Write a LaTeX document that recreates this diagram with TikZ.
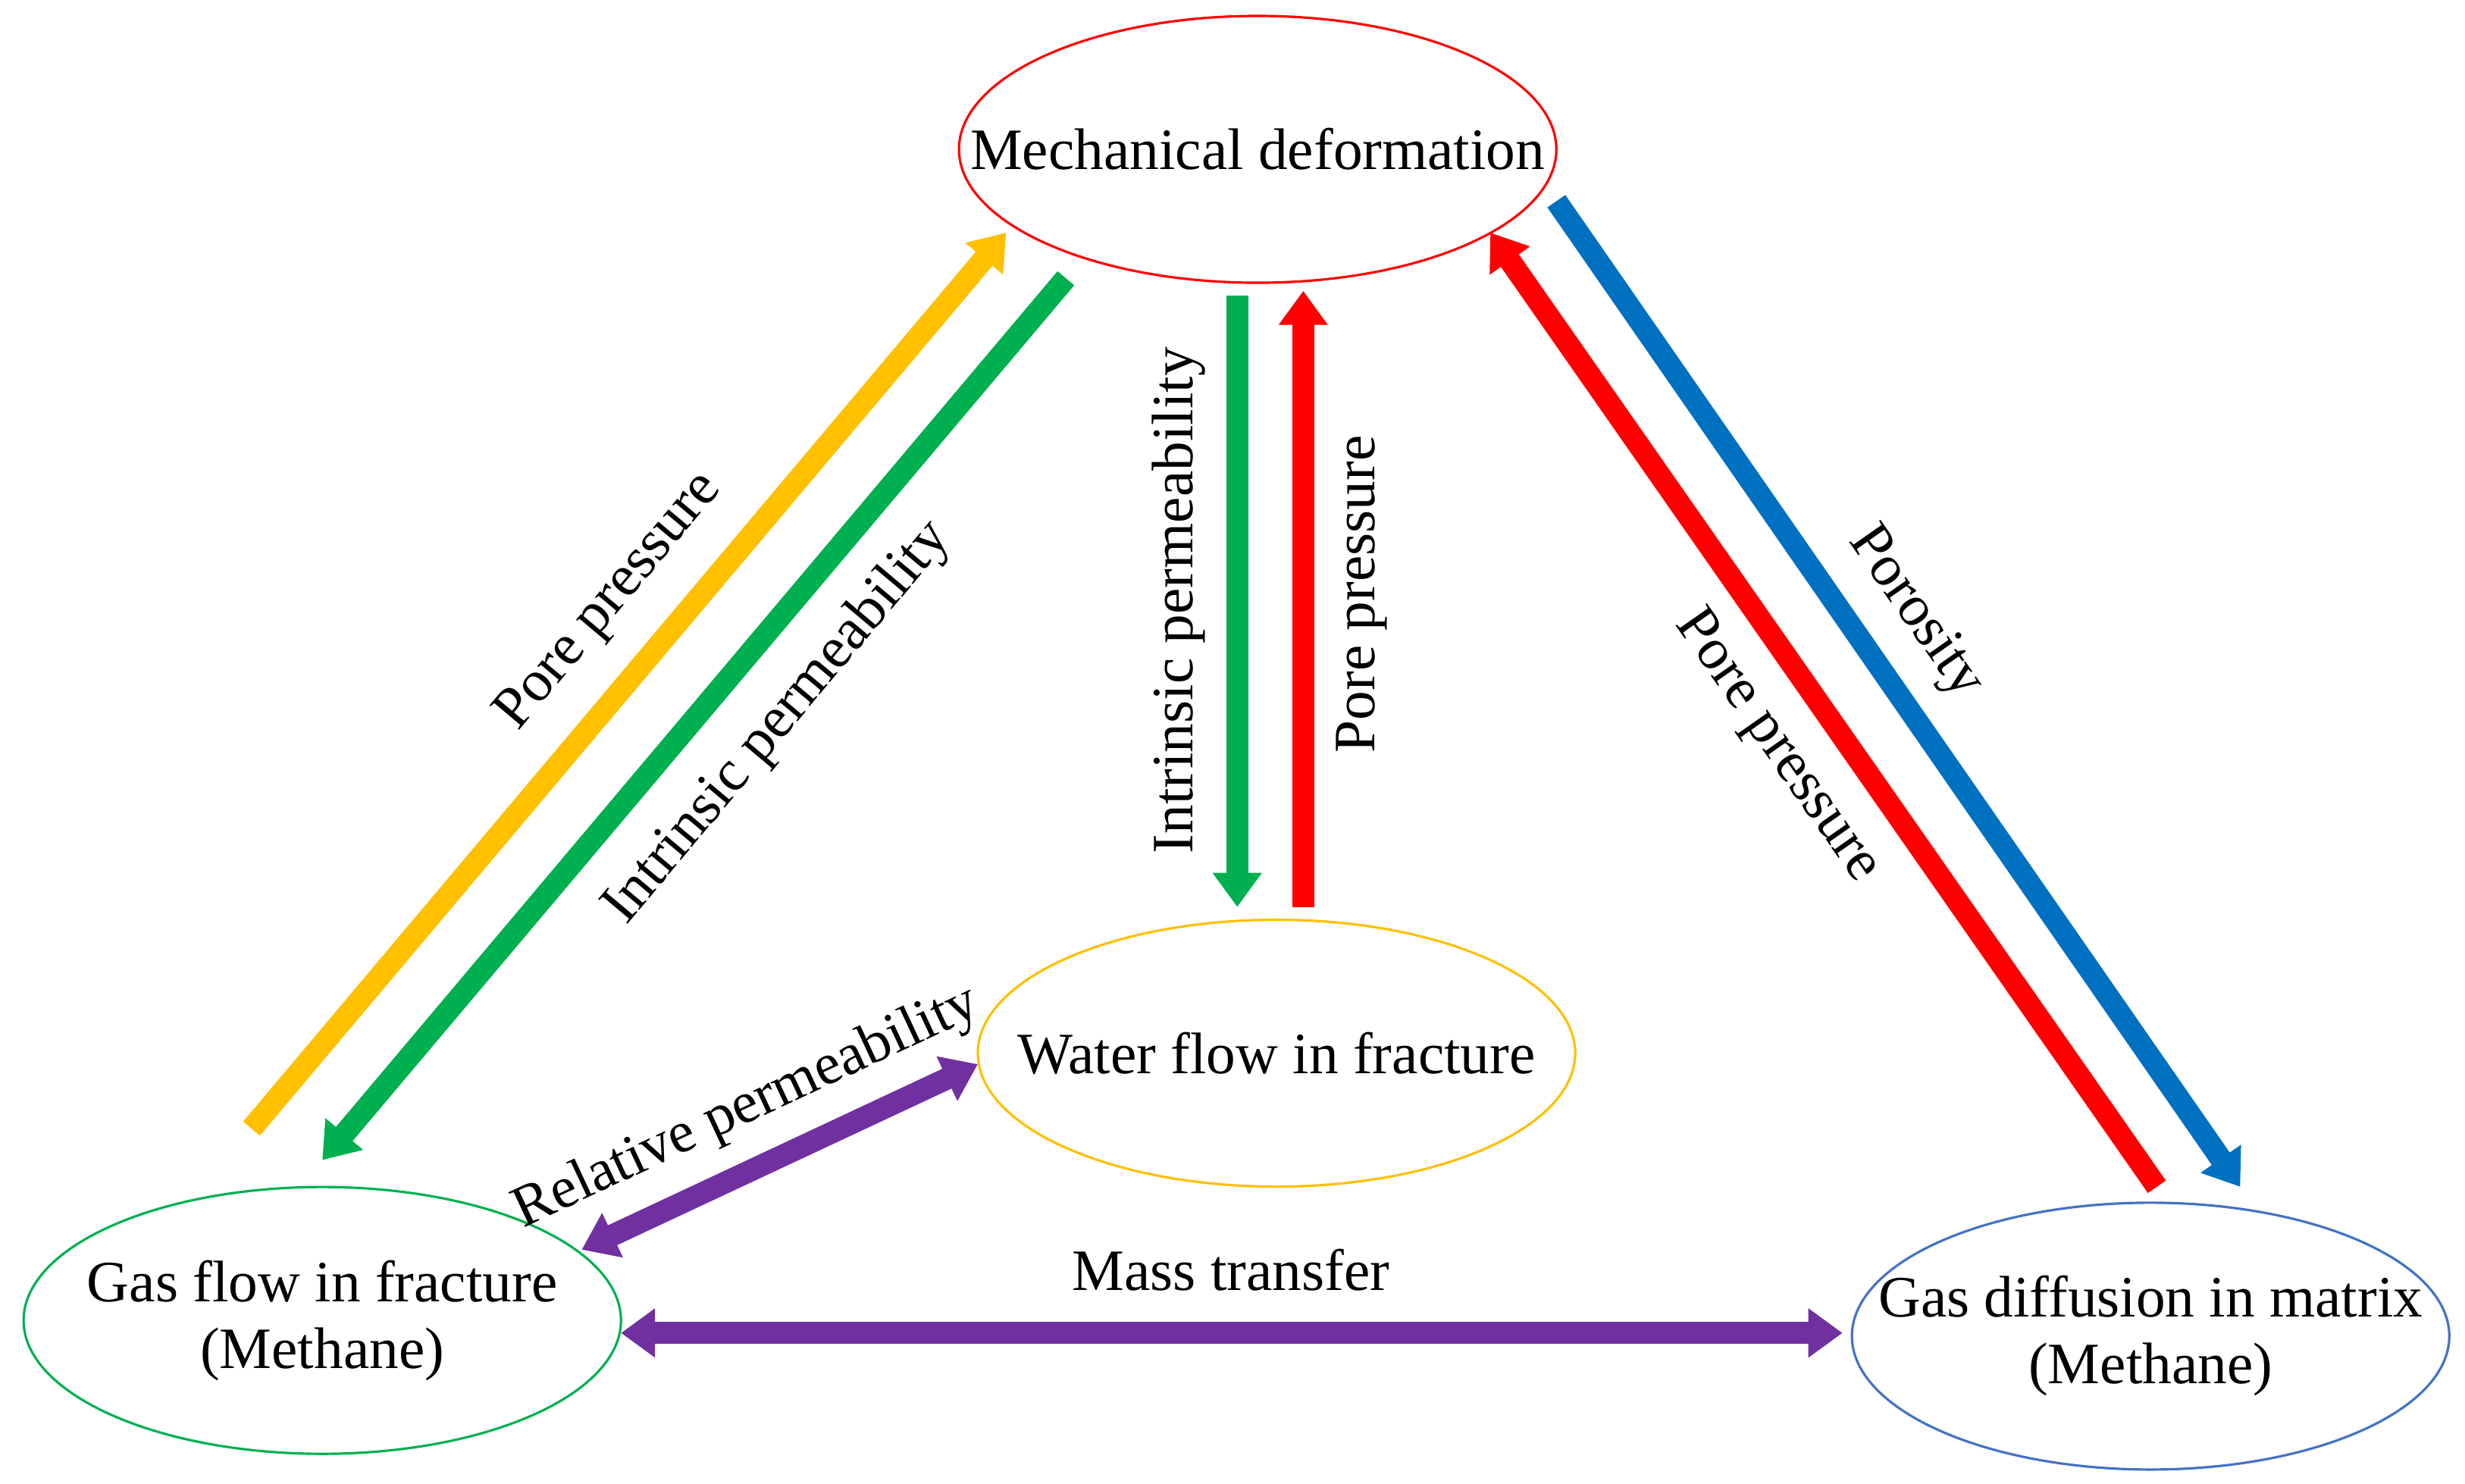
\documentclass[tikz,border=0pt]{standalone}
\usepackage{fontspec}
\setmainfont{Liberation Serif}
\usetikzlibrary{shapes.geometric,arrows.meta}
\definecolor{cgold}{RGB}{255,192,0}
\definecolor{cgreen}{RGB}{0,176,80}
\definecolor{cblue}{RGB}{0,112,192}
\definecolor{cpurple}{RGB}{112,48,160}
\definecolor{eblue}{RGB}{68,114,196}
\begin{document}
\begin{tikzpicture}[x=0.02074cm,y=-0.02074cm,
  ell/.style={ellipse,draw,line width=0.9pt,minimum width=7.88cm,minimum height=3.52cm,inner sep=0pt},
  big/.style={line width=8.2pt,-{Triangle[width=0.62cm,length=0.45cm]}},
  dbl/.style={line width=8.2pt,{Triangle[width=0.62cm,length=0.45cm]}-{Triangle[width=0.62cm,length=0.45cm]}},
  lab/.style={font=\fontsize{22pt}{25pt}\selectfont}]
\useasboundingbox (0,0) rectangle (1568,944);
\node[ell,draw=red] (md) at (800,95) {};
\node[lab] (mdt) at (md) {Mechanical deformation};
\node[ell,draw=cgold] (wf) at (812,670) {};
\node[lab] (wft) at (wf) {Water flow in fracture};
\node[ell,draw=cgreen] (gf) at (205,840) {};
\node[lab,align=center] (gft) at (gf) {Gas flow in fracture\\(Methane)};
\node[ell,draw=eblue] (gd) at (1368,850) {};
\node[lab,align=center] (gdt) at (gd) {Gas diffusion in matrix\\(Methane)};
\coordinate (y1) at (160,718); \coordinate (y2) at (640,148);
\coordinate (g1) at (678,177); \coordinate (g2) at (205,738);
\coordinate (v1) at (787,188); \coordinate (v2) at (787,577);
\coordinate (r1) at (829,577); \coordinate (r2) at (829,185);
\coordinate (rr1) at (1372,755); \coordinate (rr2) at (948,148);
\coordinate (b1) at (990,128); \coordinate (b2) at (1425,755);
\coordinate (p1) at (370,795); \coordinate (p2) at (622,677);
\coordinate (h1) at (395,848); \coordinate (h2) at (1172,848);
\draw[big,cgold] (y1) -- (y2);
\draw[big,cgreen] (g1) -- (g2);
\draw[big,cgreen] (v1) -- (v2);
\draw[big,red] (r1) -- (r2);
\draw[big,red] (rr1) -- (rr2);
\draw[big,cblue] (b1) -- (b2);
\draw[dbl,cpurple] (p1) -- (p2);
\draw[dbl,cpurple] (h1) -- (h2);
\node[lab,rotate=50] (l1) at (388,383) {Pore pressure};
\node[lab,rotate=50] (l2) at (495,460) {Intrinsic permeability};
\node[lab,rotate=90] (l3) at (750,382) {Intrinsic permeability};
\node[lab,rotate=90] (l4) at (866,378) {Pore pressure};
\node[lab,rotate=-55] (l5) at (1130,475) {Pore pressure};
\node[lab,rotate=-55] (l6) at (1218,390) {Porosity};
\node[lab,rotate=25] (l7) at (475,705) {Relative permeability};
\node[lab] (l8) at (783,808) {Mass transfer};
\end{tikzpicture}
\end{document}
